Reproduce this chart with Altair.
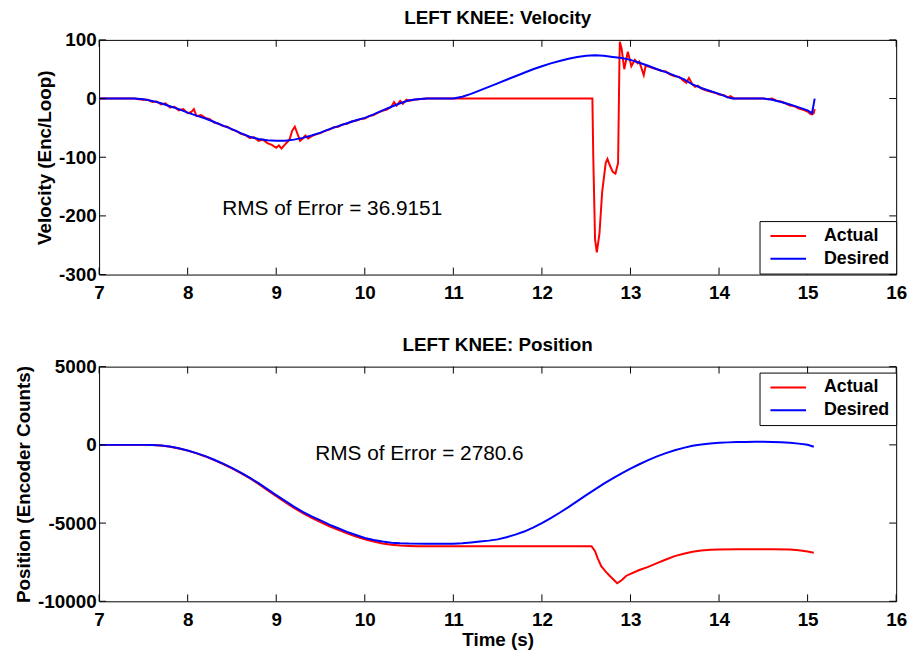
import altair as alt
import pandas as pd

# ---------------- data ----------------
series_names = ["Actual", "Desired"]
series_colors = ["#ff0000", "#0000ff"]
x_ticks = [7, 8, 9, 10, 11, 12, 13, 14, 15, 16]
vel_ticks = [-300, -200, -100, 0, 100]
pos_ticks = [-10000, -5000, 0, 5000]

vel_des_t = [7.0, 7.4, 7.5, 7.6, 7.7, 7.8, 7.9, 8.0, 8.1, 8.2, 8.3, 8.4, 8.5, 8.6, 8.7, 8.8, 8.9,
             9.0, 9.1, 9.2, 9.3, 9.4, 9.5, 9.6, 9.7, 9.8, 9.9, 10.0, 10.1, 10.2, 10.3, 10.4, 10.5,
             10.6, 10.7, 11.0, 11.1, 11.2, 11.3, 11.4, 11.5, 11.6, 11.7, 11.8, 11.9, 12.0, 12.1,
             12.2, 12.3, 12.4, 12.5, 12.6, 12.7, 12.8, 12.9, 13.0, 13.1, 13.2, 13.3, 13.4, 13.5,
             13.6, 13.7, 13.8, 13.9, 14.0, 14.1, 14.15, 14.5, 14.6, 14.7, 14.8, 14.9, 15.0, 15.05, 15.08]
vel_des_v = [0, 0, -1, -4, -8, -13, -18, -24, -29, -34, -40, -46, -52, -59, -65, -69, -71,
             -72, -72, -70, -67, -63, -58, -52, -47, -42, -37, -33, -27, -20, -14, -8, -3,
             -1, 0, 0, 3, 8, 14, 20, 26, 32, 38, 44, 50, 55, 60,
             64, 68, 71, 73, 74, 73, 71, 69, 66, 61, 56, 50, 45, 39,
             33, 24, 18, 13, 8, 2, 0, 0, -2, -6, -10, -15, -20, -25, 0]

vel_act_t = [7.0, 7.4, 7.45, 7.5, 7.55, 7.6, 7.65, 7.7, 7.75, 7.8, 7.85, 7.9, 7.95, 8.0, 8.04,
             8.07, 8.1, 8.15, 8.2, 8.25, 8.3, 8.35, 8.4, 8.45, 8.5, 8.55, 8.6, 8.65, 8.7, 8.75,
             8.8, 8.85, 8.9, 8.95, 9.0, 9.03, 9.06, 9.1, 9.15, 9.18, 9.21, 9.24, 9.27, 9.3, 9.33,
             9.36, 9.4, 9.45, 9.5, 9.55, 9.6, 9.65, 9.7, 9.75, 9.8, 9.85, 9.9, 9.95, 10.0, 10.05,
             10.1, 10.15, 10.2, 10.25, 10.3, 10.33, 10.36, 10.4, 10.43, 10.47, 10.5, 10.55, 10.6,
             10.7, 12.57, 12.58, 12.6, 12.62, 12.65, 12.68, 12.72, 12.74, 12.77, 12.8, 12.83,
             12.86, 12.875, 12.88, 12.9, 12.93, 12.97, 13.01, 13.05, 13.08, 13.1, 13.15, 13.17,
             13.2, 13.25, 13.3, 13.35, 13.4, 13.45, 13.5, 13.55, 13.6, 13.63, 13.66, 13.7, 13.73,
             13.76, 13.8, 13.85, 13.9, 13.95, 14.0, 14.05, 14.1, 14.13, 14.17, 14.5, 14.55, 14.6,
             14.65, 14.7, 14.75, 14.8, 14.85, 14.9, 14.95, 15.0, 15.03, 15.05, 15.07, 15.08]
vel_act_v = [0, 0, -1, -2, -2, -6, -5, -10, -8, -15, -14, -20, -18, -25, -23,
             -18, -30, -28, -33, -35, -41, -43, -47, -48, -53, -55, -60, -62, -67, -66,
             -72, -70, -76, -79, -84, -80, -85, -78, -70, -55, -48, -60, -72, -68, -63,
             -68, -64, -61, -59, -55, -53, -49, -48, -44, -43, -39, -38, -35, -34, -30,
             -28, -24, -21, -19, -14, -6, -12, -4, -9, -2, -4, -2, -1,
             0, 0, -100, -240, -262, -230, -160, -110, -103, -115, -125, -128,
             -110, 60, 97, 85, 50, 80, 55, 66, 60, 63, 40, 55,
             55, 52, 50, 47, 46, 41, 38, 37, 30, 27, 35, 24, 20,
             22, 17, 14, 12, 10, 7, 6, 2, 4, 0, 0, -1, 0,
             -4, -5, -8, -12, -13, -17, -19, -22, -26, -27, -25, -18]

pos_des_t = [7.0, 7.5, 7.6, 7.7, 7.8, 7.9, 8.0, 8.1, 8.2, 8.3, 8.4, 8.5, 8.6, 8.7, 8.8, 8.9, 9.0,
             9.1, 9.2, 9.3, 9.4, 9.5, 9.6, 9.7, 9.8, 9.9, 10.0, 10.1, 10.2, 10.3, 10.4, 10.5, 10.7,
             11.0, 11.1, 11.2, 11.3, 11.4, 11.5, 11.6, 11.7, 11.8, 11.9, 12.0, 12.1, 12.2, 12.3,
             12.4, 12.5, 12.6, 12.7, 12.8, 12.9, 13.0, 13.1, 13.2, 13.3, 13.4, 13.5, 13.6, 13.7,
             13.8, 13.9, 14.0, 14.1, 14.2, 14.3, 14.4, 14.5, 14.6, 14.7, 14.8, 14.9, 15.0, 15.07]
pos_des_p = [0, 0, -10, -40, -110, -220, -360, -530, -720, -950, -1200, -1470, -1770, -2090,
             -2450, -2830, -3210, -3580, -3950, -4280, -4570, -4830, -5100, -5330, -5560, -5760,
             -5950, -6080, -6180, -6250, -6290, -6310, -6320, -6320, -6290, -6240, -6180, -6120,
             -6040, -5900, -5740, -5540, -5290, -5000, -4680, -4340, -3980, -3600, -3210, -2840,
             -2480, -2140, -1820, -1520, -1240, -980, -740, -530, -340, -190, -60, 30, 90, 130,
             160, 180, 190, 195, 195, 190, 170, 130, 80, 10, -120]

pos_act_t = [7.0, 7.55, 7.7, 7.8, 7.9, 8.0, 8.1, 8.2, 8.3, 8.4, 8.5, 8.6, 8.7, 8.8, 8.9, 9.0,
             9.1, 9.2, 9.3, 9.4, 9.5, 9.6, 9.7, 9.8, 9.9, 10.0, 10.1, 10.2, 10.3, 10.4, 10.5,
             10.6, 12.56, 12.6, 12.63, 12.67, 12.72, 12.77, 12.85, 12.9, 12.95, 13.0, 13.1, 13.2,
             13.3, 13.4, 13.5, 13.6, 13.7, 13.8, 13.9, 14.0, 14.2, 14.4, 14.6, 14.8, 14.9, 15.0,
             15.07]
pos_act_p = [0, 0, -45, -115, -230, -370, -545, -740, -975, -1230, -1500, -1800, -2130, -2500,
             -2890, -3280, -3660, -4030, -4370, -4670, -4940, -5200, -5430, -5660, -5860, -6040,
             -6180, -6300, -6380, -6430, -6460, -6480, -6480, -6800, -7250, -7750, -8100, -8400,
             -8850, -8650, -8380, -8250, -8000, -7800, -7560, -7330, -7110, -6960, -6830, -6750,
             -6710, -6690, -6670, -6670, -6670, -6690, -6740, -6820, -6900]

vel_rms_label = "RMS of Error = 36.9151"
pos_rms_label = "RMS of Error = 2780.6"

# ---------------- chart ----------------
FONT = "Liberation Sans"
W, H = 805, 237
TL = 7  # inward tick length


def long_df(t_act, y_act, t_des, y_des):
    a = pd.DataFrame({"t": t_act, "y": y_act, "series": series_names[0]})
    d = pd.DataFrame({"t": t_des, "y": y_des, "series": series_names[1]})
    return pd.concat([a, d], ignore_index=True)


def panel(df, ydom, yticks, ytitle, title, rms_label, rms_t, rms_y, legend_y, xtitle):
    xscale = alt.Scale(domain=[7, 16], nice=False, zero=False)
    yscale = alt.Scale(domain=ydom, nice=False, zero=False)
    xaxis_kw = dict(values=x_ticks, labelFlush=False, labelOverlap=False, labelPadding=9,
                    ticks=False, domain=False, grid=False, labelExpr="'' + datum.value")
    if xtitle:
        xaxis = alt.Axis(title=xtitle, titlePadding=2, **xaxis_kw)
    else:
        xaxis = alt.Axis(title=None, **xaxis_kw)
    yaxis = alt.Axis(values=yticks, title=ytitle, labelFlush=False, labelOverlap=False,
                     labelPadding=3, titlePadding=4, ticks=False, domain=False, grid=False,
                     labelExpr="'' + datum.value")
    X = alt.X("t:Q", scale=xscale, axis=xaxis)
    Y = alt.Y("y:Q", scale=yscale, axis=yaxis)
    lines = alt.Chart(df).mark_line(strokeWidth=2).encode(
        x=X,
        y=Y,
        color=alt.Color(
            "series:N",
            scale=alt.Scale(domain=series_names, range=series_colors),
            sort=series_names,
            legend=alt.Legend(
                title=None, orient="none", legendX=667, legendY=legend_y, fillColor="white",
                strokeColor="black", padding=6, labelFont=FONT, labelFontSize=18,
                labelFontWeight="bold", labelColor="black", symbolType="M-3,0H3",
                symbolSize=144, symbolStrokeWidth=2, symbolOffset=14, labelOffset=27,
                rowPadding=5,
            ),
        ),
    )
    xt = pd.DataFrame({"t": x_ticks})
    yt = pd.DataFrame({"y": yticks})
    ticks_top = alt.Chart(xt).mark_rule(color="black", strokeWidth=1).encode(
        x=X, y=alt.value(0), y2=alt.value(TL))
    ticks_bot = alt.Chart(xt).mark_rule(color="black", strokeWidth=1).encode(
        x=X, y=alt.value(H - TL), y2=alt.value(H))
    ticks_left = alt.Chart(yt).mark_rule(color="black", strokeWidth=1).encode(
        y=Y, x=alt.value(0), x2=alt.value(TL))
    ticks_right = alt.Chart(yt).mark_rule(color="black", strokeWidth=1).encode(
        y=Y, x=alt.value(W - TL), x2=alt.value(W))
    txt = alt.Chart(pd.DataFrame({"t": [rms_t], "y": [rms_y], "label": [rms_label]})).mark_text(
        align="left", baseline="middle", font=FONT, fontSize=21, color="black"
    ).encode(x=X, y=Y, text="label:N")
    return alt.layer(lines, ticks_top, ticks_bot, ticks_left, ticks_right, txt).properties(
        width=W, height=H,
        title=alt.TitleParams(title, font=FONT, fontSize=19, fontWeight="bold", color="black",
                              offset=3, anchor="middle"),
    )


vel_df = long_df(vel_act_t, vel_act_v, vel_des_t, vel_des_v)
pos_df = long_df(pos_act_t, pos_act_p, pos_des_t, pos_des_p)

top = panel(vel_df, [-300, 100], vel_ticks, "Velocity (Enc/Loop)", "LEFT KNEE: Velocity",
            vel_rms_label, 8.39, -188, 183, None)
bottom = panel(pos_df, [-10000, 5000], pos_ticks, "Position (Encoder Counts)",
               "LEFT KNEE: Position", pos_rms_label, 9.44, -614, 6, "Time (s)")

chart = alt.vconcat(top, bottom, spacing=32).resolve_scale(color="independent").resolve_legend(
    color="independent"
).properties(
    padding={"left": 6, "top": -3, "right": 5, "bottom": 0},
    background="white",
).configure_view(stroke="black", strokeWidth=1).configure_axis(
    labelFont=FONT, labelFontSize=19, labelFontWeight="bold", labelColor="black",
    titleFont=FONT, titleFontSize=19, titleFontWeight="bold", titleColor="black",
)

chart.save("out.html", embed_options={"renderer": "svg", "actions": False})
